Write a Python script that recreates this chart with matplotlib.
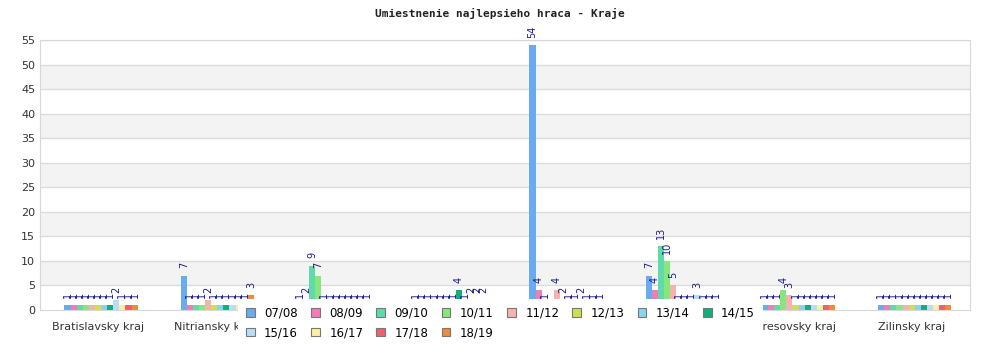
import numpy as np
import matplotlib
matplotlib.use("Agg")
import matplotlib.pyplot as plt
from matplotlib.patches import Patch

kraje = ["Bratislavsky kraj", "Nitriansky kraj", "Banskobystricky kraj", "Kosicky kraj",
         "Trnavsky kraj", "Trenciansky kraj", "Presovsky kraj", "Zilinsky kraj"]
sezony = ["07/08", "08/09", "09/10", "10/11", "11/12", "12/13",
          "13/14", "14/15", "15/16", "16/17", "17/18", "18/19"]
farby = ["#68abee", "#f07db6", "#5edba8", "#88e67c", "#f5b3ae", "#cee04c",
         "#88d3ee", "#12ae7c", "#b6dff6", "#fdf0a6", "#ef5f6e", "#ef8a3a"]

# hodnoty po sezonach, v poradi krajov
hodnoty = [
    [1, 7, 1, 1, 54, 7, 1, 1],    # 07/08
    [1, 1, 2, 1, 4, 4, 1, 1],     # 08/09
    [1, 1, 9, 1, 1, 13, 1, 1],    # 09/10
    [1, 1, 7, 1, 0, 10, 4, 1],    # 10/11
    [1, 2, 1, 1, 4, 5, 3, 1],     # 11/12
    [1, 1, 1, 1, 2, 1, 1, 1],     # 12/13
    [1, 1, 1, 1, 1, 1, 1, 1],     # 13/14
    [1, 1, 1, 4, 1, 1, 1, 1],     # 14/15
    [2, 1, 1, 1, 2, 3, 1, 1],     # 15/16
    [1, 1, 1, 2, 1, 1, 1, 1],     # 16/17
    [1, 1, 1, 2, 1, 1, 1, 1],     # 17/18
    [1, 3, 1, 2, 1, 1, 1, 1],     # 18/19
]

fig = plt.figure(figsize=(10, 3.5), dpi=100)
ax = fig.add_axes([0.04, 40 / 350, 0.93, 270 / 350])

# pasy na pozadi
for y in range(5, 55, 10):
    ax.axhspan(y, y + 5, color="#f3f3f3", zorder=0, lw=0)
for y in range(5, 56, 5):
    ax.axhline(y, color="#dcdcdc", lw=1, zorder=1)

x = np.arange(len(kraje))
w = 0.0525
for i, s in enumerate(sezony):
    pos = x + (i - 5.5) * w + 0.025
    vals = np.array(hodnoty[i])
    ax.bar(pos, vals, width=w, color=farby[i], zorder=2, linewidth=0)
    for px, v in zip(pos, vals):
        if v > 0:
            ax.text(px, v + 1.5, str(v), rotation=90, ha="center", va="bottom",
                    fontsize=7, color="#1a1a8c", zorder=12)

ax.set_xlim(-0.5, len(kraje) - 0.5)
ax.set_ylim(0, 55)
ax.set_yticks(range(0, 56, 5))
ax.set_xticks(x)
ax.set_xticklabels(kraje)
ax.tick_params(axis="both", length=0, labelsize=8, colors="#333333")
ax.tick_params(axis="x", pad=9)
for sp in ax.spines.values():
    sp.set_color("#d8d8d8")

fig.text(0.5, 1 - 13 / 350, "Umiestnenie najlepsieho hraca - Kraje", ha="center", va="center",
         fontsize=8, fontweight="bold", family="DejaVu Sans Mono", color="#222222")

# legenda po riadkoch (matplotlib plni po stlpcoch)
poradie = [0, 8, 1, 9, 2, 10, 3, 11, 4, 5, 6, 7]
handles = [Patch(facecolor=farby[k], edgecolor="#777777", lw=0.8) for k in poradie]
labels = [sezony[k] for k in poradie]
leg = fig.legend(handles, labels, loc="upper left", bbox_to_anchor=(0.238, 1 - 299 / 350),
                 ncol=8, fontsize=8.5, frameon=True, fancybox=False, borderaxespad=0,
                 handlelength=0.75, handleheight=0.75, handletextpad=0.8,
                 columnspacing=1.11, labelspacing=0.55, borderpad=0.65)
leg.get_frame().set_facecolor("white")
leg.get_frame().set_edgecolor("none")
leg.get_frame().set_alpha(1)
leg.set_zorder(10)

fig.savefig("out.png", dpi=100)
